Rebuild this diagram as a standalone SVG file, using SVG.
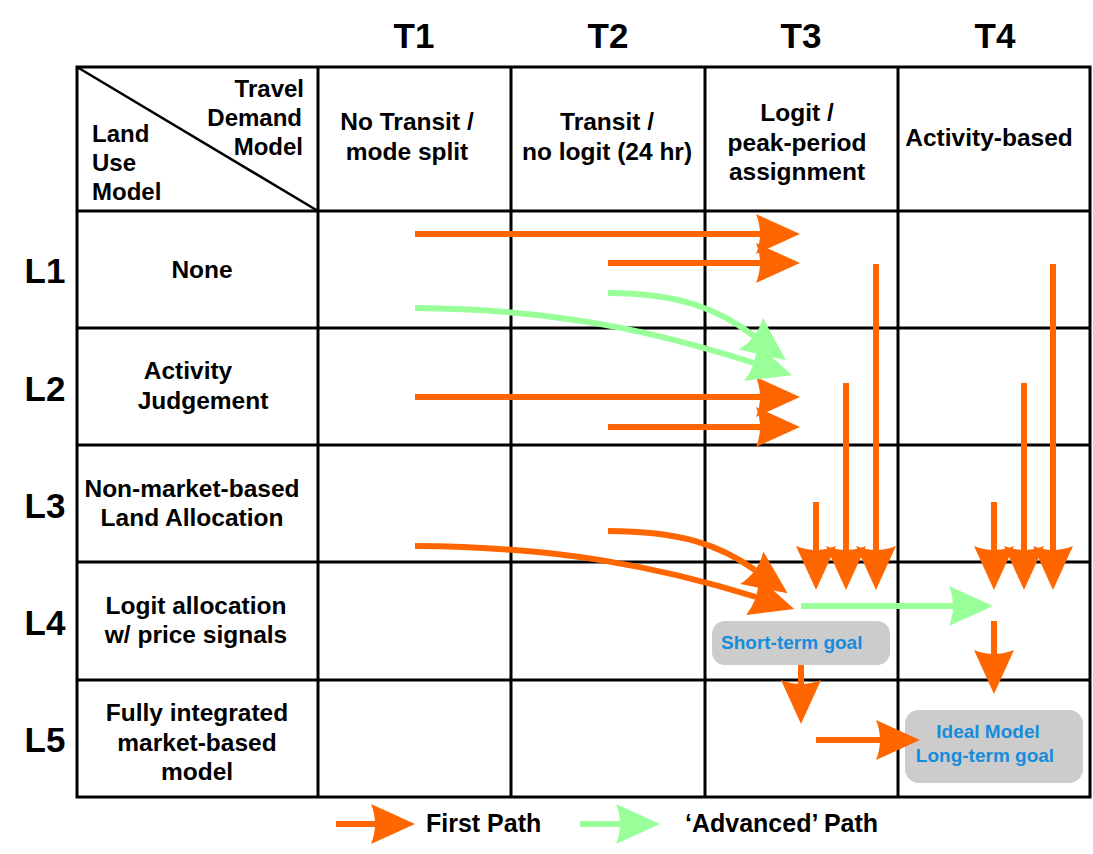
<svg xmlns="http://www.w3.org/2000/svg" width="1093" height="854" viewBox="0 0 1093 854">
<style>
.t{font-family:"Liberation Sans",Arial,sans-serif;font-weight:bold;fill:#000}
.h{font-size:35px;text-anchor:middle}
.c{font-size:24.5px;text-anchor:middle}
.g{stroke:#000;stroke-width:3;fill:none}
.o{stroke:#FF6600;stroke-width:6;fill:none}
.gr{stroke:#99FF99;stroke-width:6;fill:none}
.goal{fill:#CCCCCC}
.gt{font-family:"Liberation Sans",Arial,sans-serif;font-weight:bold;font-size:19px;fill:#168CDC}
</style>
<defs>
<marker id="ao" markerUnits="userSpaceOnUse" markerWidth="50" markerHeight="50" viewBox="-5 -25 50 50" refX="0" refY="0" orient="auto" overflow="visible">
<path d="M40,0 L-4,-20 Q4,0 -4,20 Z" fill="#FF6600"/>
</marker>
<marker id="ag" markerUnits="userSpaceOnUse" markerWidth="50" markerHeight="50" viewBox="-5 -25 50 50" refX="0" refY="0" orient="auto" overflow="visible">
<path d="M40,0 L-4,-20 Q4,0 -4,20 Z" fill="#99FF99"/>
</marker>
</defs>
<rect width="1093" height="854" fill="#fff"/>
<g id="grid">
<rect x="77" y="67" width="1013" height="730" class="g"/>
<line x1="318" y1="67" x2="318" y2="797" class="g"/>
<line x1="511" y1="67" x2="511" y2="797" class="g"/>
<line x1="705" y1="67" x2="705" y2="797" class="g"/>
<line x1="898" y1="67" x2="898" y2="797" class="g"/>
<line x1="77" y1="211" x2="1090" y2="211" class="g"/>
<line x1="77" y1="328" x2="1090" y2="328" class="g"/>
<line x1="77" y1="445" x2="1090" y2="445" class="g"/>
<line x1="77" y1="562" x2="1090" y2="562" class="g"/>
<line x1="77" y1="680" x2="1090" y2="680" class="g"/>
<line x1="77" y1="67" x2="318" y2="211" stroke="#000" stroke-width="2.5"/>
</g>
<g id="corner">
<text class="t" font-size="24" text-anchor="end"><tspan x="304" y="97">Travel</tspan><tspan x="302" y="126">Demand</tspan><tspan x="303" y="155">Model</tspan></text>
<text class="t" font-size="24"><tspan x="92" y="142">Land</tspan><tspan x="92" y="171">Use</tspan><tspan x="92" y="200">Model</tspan></text>
</g>
<g id="col-T1"><text class="t h" x="414" y="48">T1</text><text class="t c"><tspan x="407" y="130">No Transit /</tspan><tspan x="407" y="160">mode split</tspan></text></g>
<g id="col-T2"><text class="t h" x="608" y="48">T2</text><text class="t c"><tspan x="607" y="130">Transit /</tspan><tspan x="607" y="160">no logit (24 hr)</tspan></text></g>
<g id="col-T3"><text class="t h" x="801" y="48">T3</text><text class="t c"><tspan x="797" y="121">Logit /</tspan><tspan x="797" y="151">peak-period</tspan><tspan x="797" y="180">assignment</tspan></text></g>
<g id="col-T4"><text class="t h" x="995" y="48">T4</text><text class="t c" x="989" y="146">Activity-based</text></g>
<g id="row-L1"><text class="t h" x="45" y="283">L1</text><text class="t c" x="202" y="278">None</text></g>
<g id="row-L2"><text class="t h" x="45" y="401">L2</text><text class="t c"><tspan x="188" y="379">Activity</tspan><tspan x="203" y="409">Judgement</tspan></text></g>
<g id="row-L3"><text class="t h" x="45" y="518">L3</text><text class="t c"><tspan x="192" y="497">Non-market-based</tspan><tspan x="192" y="526">Land Allocation</tspan></text></g>
<g id="row-L4"><text class="t h" x="45" y="635">L4</text><text class="t c"><tspan x="196" y="614">Logit allocation</tspan><tspan x="196" y="643">w/ price signals</tspan></text></g>
<g id="row-L5"><text class="t h" x="45" y="752">L5</text><text class="t c"><tspan x="197" y="721">Fully integrated</tspan><tspan x="197" y="751">market-based</tspan><tspan x="197" y="780">model</tspan></text></g>
<g id="short-term-goal"><rect class="goal" x="712" y="621" width="178" height="44" rx="13"/><text class="gt" x="721" y="649">Short-term goal</text></g>
<g id="ideal-model"><rect class="goal" x="905" y="710" width="178" height="73" rx="14"/><text class="gt" text-anchor="middle"><tspan x="988" y="738">Ideal Model</tspan><tspan x="985" y="762">Long-term goal</tspan></text></g>
<g id="connectors">
<line class="o" x1="415" y1="234" x2="760" y2="234" marker-end="url(#ao)"/>
<line class="o" x1="608" y1="263" x2="760" y2="263" marker-end="url(#ao)"/>
<line class="o" x1="415" y1="397" x2="760" y2="397" marker-end="url(#ao)"/>
<line class="o" x1="608" y1="427" x2="760" y2="427" marker-end="url(#ao)"/>
<path class="gr" d="M415,308 C560,309 660,333 754,363" marker-end="url(#ag)"/>
<path class="gr" d="M608,293 C680,293 720,310 754,336" marker-end="url(#ag)"/>
<path class="o" d="M608,531 C680,531 720,545 755,570" marker-end="url(#ao)"/>
<path class="o" d="M415,546 C560,547 660,567 756,597" marker-end="url(#ao)"/>
<line class="o" x1="876" y1="264" x2="876" y2="550" marker-end="url(#ao)"/>
<line class="o" x1="846" y1="383" x2="846" y2="550" marker-end="url(#ao)"/>
<line class="o" x1="816" y1="502" x2="816" y2="550" marker-end="url(#ao)"/>
<line class="o" x1="1053" y1="264" x2="1053" y2="550" marker-end="url(#ao)"/>
<line class="o" x1="1024" y1="383" x2="1024" y2="550" marker-end="url(#ao)"/>
<line class="o" x1="994" y1="502" x2="994" y2="550" marker-end="url(#ao)"/>
<line class="gr" x1="801" y1="606" x2="953" y2="606" marker-end="url(#ag)"/>
<line class="o" x1="994" y1="621" x2="994" y2="654" marker-end="url(#ao)"/>
<line class="o" x1="801" y1="665" x2="801" y2="684" marker-end="url(#ao)"/>
<line class="o" x1="816" y1="740" x2="880" y2="740" marker-end="url(#ao)"/>
</g>
<g id="legend">
<line class="o" x1="336" y1="824" x2="375" y2="824" marker-end="url(#ao)"/>
<text class="t" font-size="25" x="426" y="832">First Path</text>
<line class="gr" x1="580" y1="824" x2="620" y2="824" marker-end="url(#ag)"/>
<text class="t" font-size="25" x="685" y="832">‘Advanced’ Path</text>
</g>
</svg>
